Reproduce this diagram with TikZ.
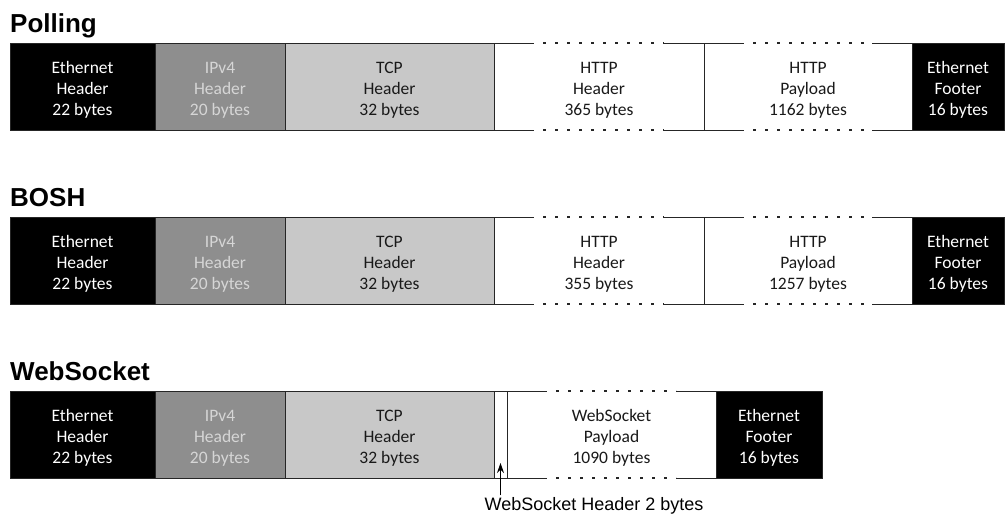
\documentclass[tikz,border=0pt]{standalone}
\usepackage{fontspec}
\setmainfont{Carlito}
\newfontfamily\arialfont{Liberation Sans}
\usepackage{xcolor}
\usepackage{tikz}
\usetikzlibrary{arrows.meta,positioning}
\definecolor{ipgray}{HTML}{8E8E8E}
\definecolor{iptext}{HTML}{D6D6D6}
\definecolor{tcpgray}{HTML}{C8C8C8}
\definecolor{edgegray}{HTML}{262626}
\tikzset{
  seg/.style={rectangle, minimum height=87pt, inner sep=0pt, outer sep=0pt, align=center,
    font=\fontsize{17.5}{21}\selectfont, draw=edgegray, line width=1pt},
  ethseg/.style={seg, fill=black, text=white},
  ipseg/.style={seg, fill=ipgray, text=iptext},
  tcpseg/.style={seg, fill=tcpgray, text=black!90},
  openseg/.style={seg, draw=none, fill=white, text=black!90},
  edge/.style={draw=edgegray, line width=1pt},
  dotline/.style={line width=1.3pt, dash pattern=on 3pt off 9pt, dash phase=3pt},
  rowtitle/.style={anchor=base west, inner sep=0pt, font=\arialfont\bfseries\fontsize{26}{30}\selectfont},
  note/.style={inner sep=0pt, font=\arialfont\fontsize{18}{22}\selectfont}
}
% three lines of a segment, a little lower than centred
\newcommand{\seglines}[3]{\rule{0pt}{18.5pt}#1\\#2\\#3}
% open segment: solid sides, dotted middle of top and bottom
\newcommand{\openedge}[1]{%
  \draw[edge] (#1.north west) -- ++(40,0) (#1.north east) -- ++(-40,0)
              (#1.south west) -- ++(40,0) (#1.south east) -- ++(-40,0)
              (#1.north west) -- (#1.south west) (#1.north east) -- (#1.south east);
  \draw[edge, dotline] ([xshift=40pt]#1.north west) -- ([xshift=-40pt]#1.north east)
                       ([xshift=40pt]#1.south west) -- ([xshift=-40pt]#1.south east);
}
\begin{document}
\begin{tikzpicture}[x=1pt,y=-1pt]
\useasboundingbox (0,0) rectangle (1006,515);

% common head of every frame
\foreach \r/\y/\t in {p/43/Polling, b/217/BOSH, w/391/WebSocket}{
  \node[rowtitle] (\r title) at (10,\y-11) {\t};
  \node[ethseg, minimum width=145pt, anchor=north west] (\r eth) at (10,\y)
    {\seglines{Ethernet}{Header}{22 bytes}};
  \node[ipseg, minimum width=130pt, right=0pt of \r eth] (\r ip)
    {\seglines{IPv4}{Header}{20 bytes}};
  \node[tcpseg, minimum width=209pt, right=0pt of \r ip] (\r tcp)
    {\seglines{TCP}{Header}{32 bytes}};
}

% Polling
\node[openseg, minimum width=210pt, right=0pt of ptcp] (phdr) {\seglines{HTTP}{Header}{365 bytes}};
\node[openseg, minimum width=208pt, right=0pt of phdr] (ppay) {\seglines{HTTP}{Payload}{1162 bytes}};
\node[ethseg, minimum width=92pt, right=0pt of ppay] (pfoot) {\seglines{Ethernet}{Footer}{16 bytes}};
\openedge{phdr}
\openedge{ppay}

% BOSH
\node[openseg, minimum width=210pt, right=0pt of btcp] (bhdr) {\seglines{HTTP}{Header}{355 bytes}};
\node[openseg, minimum width=208pt, right=0pt of bhdr] (bpay) {\seglines{HTTP}{Payload}{1257 bytes}};
\node[ethseg, minimum width=92pt, right=0pt of bpay] (bfoot) {\seglines{Ethernet}{Footer}{16 bytes}};
\openedge{bhdr}
\openedge{bpay}

% WebSocket
\node[seg, fill=white, minimum width=13pt, right=0pt of wtcp] (whdr) {};
\node[openseg, minimum width=209pt, right=0pt of whdr] (wpay) {\seglines{WebSocket}{Payload}{1090 bytes}};
\node[ethseg, minimum width=106pt, right=0pt of wpay] (wfoot) {\seglines{Ethernet}{Footer}{16 bytes}};
\openedge{wpay}

\node[note] (wnote) at (594,506) {WebSocket Header 2 bytes};
\draw[-{Stealth[length=10pt,width=7pt]}, line width=1pt] (whdr.south |- wnote.north) ++(0,-2) -- ([yshift=15pt]whdr.south);
\end{tikzpicture}
\end{document}
